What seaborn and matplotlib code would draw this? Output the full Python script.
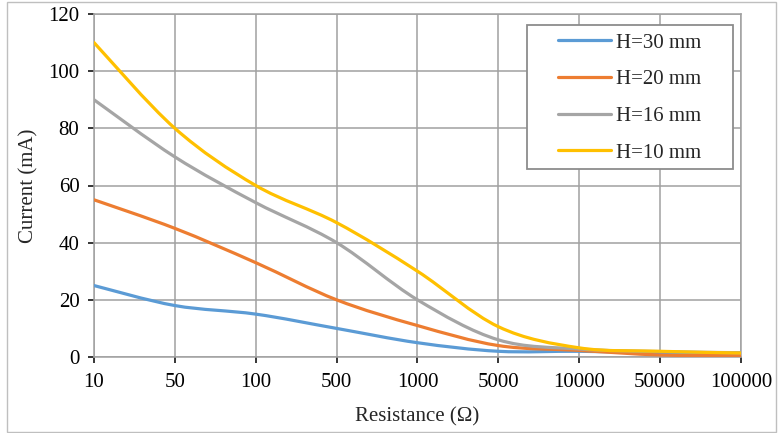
import numpy as np
import pandas as pd
import matplotlib
matplotlib.use("Agg")
import matplotlib.pyplot as plt
import seaborn as sns
from matplotlib.path import Path
from matplotlib.patches import PathPatch, Rectangle
from matplotlib.lines import Line2D

# Data
resistance = ['10', '50', '100', '500', '1000', '5000', '10000', '50000', '100000']
h30 = [25, 18, 15, 10, 5, 2, 2, 1.5, 1.5]
h20 = [55, 45, 33, 20, 11, 4, 2.3, 0.7, 0.5]
h16 = [90, 70, 54, 40, 20, 6, 2.8, 1.9, 1.5]
h10 = [110, 80, 60, 47, 30, 10.6, 3.2, 2, 1.4]
labels = ['H=30 mm', 'H=20 mm', 'H=16 mm', 'H=10 mm']
colors = ['#5B9BD5', '#ED7D31', '#A5A5A5', '#FFC000']

rows = []
for lab, vals in zip(labels, [h30, h20, h16, h10]):
    for i, v in enumerate(vals):
        rows.append({'pos': i, 'current': v, 'series': lab})
df = pd.DataFrame(rows)

sns.set_style('white')
plt.rcParams['font.family'] = ['Liberation Serif', 'DejaVu Serif']
fs = 15

fig = plt.figure(figsize=(7.78, 4.33), dpi=100)
W, H = 778, 433
ax = fig.add_axes([94 / W, 1 - 357 / H, (741 - 94) / W, (357 - 14) / H])

sns.lineplot(data=df, x='pos', y='current', hue='series', palette=colors,
             hue_order=labels, lw=2.3, legend=False, ax=ax)


def smooth_path(xy):
    # bezier segments through the points (Excel-like smoothed line)
    verts = [tuple(xy[0])]
    codes = [Path.MOVETO]
    n = len(xy)
    for i in range(n - 1):
        p0 = xy[max(i - 1, 0)]
        p1 = xy[i]
        p2 = xy[i + 1]
        p3 = xy[min(i + 2, n - 1)]
        c1 = p1 + (p2 - p0) / 6
        c2 = p2 - (p3 - p1) / 6
        verts += [tuple(c1), tuple(c2), tuple(p2)]
        codes += [Path.CURVE4] * 3
    return Path(verts, codes)


for line, c in zip(list(ax.lines), colors):
    xy = np.asarray(line.get_xydata())
    ax.add_patch(PathPatch(smooth_path(xy), fill=False, ec=c, lw=2.3,
                           capstyle='round', zorder=3))
    line.set_visible(False)

grid_c = '#a0a0a0'
ax.set_xlim(0, len(resistance) - 1)
ax.set_ylim(0, 120)
ax.set_xticks(range(len(resistance)))
ax.set_xticklabels(resistance)
ax.set_yticks(range(0, 121, 20))
ax.grid(True, color=grid_c, lw=1.1)
ax.set_axisbelow(True)
for s in ax.spines.values():
    s.set_color(grid_c)
    s.set_linewidth(1.1)
ax.tick_params(axis='both', labelsize=fs, colors='black', length=4.5,
               width=1.1, direction='out', left=True, bottom=True)
ax.tick_params(axis='y', pad=6)
ax.tick_params(axis='x', pad=7)
for t in ax.get_xticklines() + ax.get_yticklines():
    t.set_color(grid_c)

ax.set_xlabel('Resistance (Ω)', fontsize=fs, labelpad=11)
ax.set_ylabel('Current (mA)', fontsize=fs, labelpad=7)

# legend box
fig.patches.append(Rectangle((527 / W, 1 - 169 / H), (733 - 527) / W, (169 - 25) / H,
                             transform=fig.transFigure, fc='white', ec='#8c8c8c',
                             lw=1.3, zorder=5))
handles = [Line2D([0], [0], color=c, lw=2.3) for c in colors]
leg = fig.legend(handles, labels, loc='upper left', bbox_to_anchor=(558 / W, 1 - 33 / H),
                 frameon=False, fontsize=fs, borderpad=0, labelspacing=0.82,
                 handlelength=2.55, handletextpad=0.25, borderaxespad=0)
leg.set_zorder(6)

# outer chart border
fig.patches.append(Rectangle((7 / W, 1 / H), (776 - 7) / W, (431 - 1) / H,
                             transform=fig.transFigure, fill=False, ec='#bfbfbf', lw=1.0))

fig.savefig('out.png', dpi=100)
